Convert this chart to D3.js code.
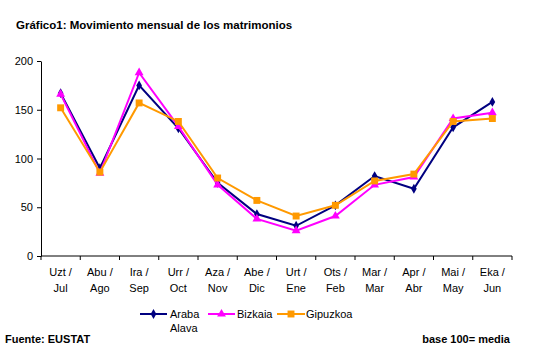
<!DOCTYPE html>
<html><head><meta charset="utf-8">
<script src="https://cdn.jsdelivr.net/npm/d3@7"></script>
<style>body{margin:0;background:#fff;}svg{display:block;font-family:"Liberation Sans",Arial,sans-serif;}</style>
</head><body><svg id="c" width="537" height="359"></svg>
<script>
const categoriesTop = ["Uzt /","Abu /","Ira /","Urr /","Aza /","Abe /","Urt /","Ots /","Mar /","Apr /","Mai /","Eka /"];
const categoriesBottom = ["Jul","Ago","Sep","Oct","Nov","Dic","Ene","Feb","Mar","Abr","May","Jun"];
const araba = [167, 90, 175, 131, 75, 43, 31, 52, 82, 69, 132, 158];
const bizkaia = [166, 85, 188, 133, 73, 38, 26, 41, 73, 81, 141, 147];
const gipuzkoa = [152, 86, 157, 138, 80, 57, 41, 52, 77, 84, 138, 141];
const yTicks = [0, 50, 100, 150, 200];

(function(){
const svg = d3.select("#c");
const pL = 41, pR = 512, pT = 61, pB = 256;
const x = d3.scaleBand().domain(d3.range(12)).range([pL, pR]);
const y = d3.scaleLinear().domain([0, 200]).range([pB, pT]);

svg.append("text").attr("x", 16).attr("y", 29).attr("font-size", 11.5).attr("font-weight", "bold").text("Gráfico1: Movimiento mensual de los matrimonios");

// y axis
const ya = svg.append("g").attr("transform", `translate(${pL},0)`)
  .call(d3.axisLeft(y).tickValues(yTicks).tickSize(4).tickSizeOuter(0));
ya.select(".domain").attr("stroke", "#000");
ya.selectAll("text").attr("font-size", 11).attr("font-family", "Liberation Sans, Arial, sans-serif").attr("fill", "#000").attr("dx", -1);

// x axis
const xa = svg.append("g").attr("transform", `translate(0,${pB})`);
xa.append("line").attr("x1", pL).attr("x2", pR).attr("stroke", "#000");
const edges = d3.range(13).map(i => i < 12 ? x(i) : x(11) + x.bandwidth());
xa.selectAll("line.t").data(edges).join("line").attr("class", "t")
  .attr("x1", d => d).attr("x2", d => d).attr("y1", 0).attr("y2", 4).attr("stroke", "#000");
xa.selectAll("text.a").data(categoriesTop).join("text").attr("class", "a")
  .attr("x", (d, i) => x(i) + x.bandwidth() / 2).attr("y", 20).attr("text-anchor", "middle").attr("font-size", 11).text(d => d);
xa.selectAll("text.b").data(categoriesBottom).join("text").attr("class", "b")
  .attr("x", (d, i) => x(i) + x.bandwidth() / 2).attr("y", 36).attr("text-anchor", "middle").attr("font-size", 11).text(d => d);

const line = d3.line().x((d, i) => x(i) + x.bandwidth() / 2).y(d => y(d));
const series = [
  {name: "Araba", data: araba, color: "#000080", shape: d3.symbolDiamond, size: 28},
  {name: "Bizkaia", data: bizkaia, color: "#FF00FF", shape: d3.symbolTriangle, size: 34},
  {name: "Gipuzkoa", data: gipuzkoa, color: "#FF9900", shape: d3.symbolSquare, size: 48}
];
series.forEach(s => {
  svg.append("path").datum(s.data).attr("d", line).attr("fill", "none").attr("stroke", s.color).attr("stroke-width", 2);
  svg.selectAll(null).data(s.data).join("path")
    .attr("transform", (d, i) => `translate(${x(i) + x.bandwidth() / 2},${y(d)})`)
    .attr("d", d3.symbol().type(s.shape).size(s.size)).attr("fill", s.color);
});

// legend
const leg = [
  {x1: 140, x2: 167, tx: 170, label: ["Araba", "Alava"]},
  {x1: 208, x2: 235, tx: 237, label: ["Bizkaia"]},
  {x1: 277, x2: 305, tx: 306, label: ["Gipuzkoa"]}
];
leg.forEach((l, k) => {
  const s = series[k];
  const ly = 314;
  svg.append("line").attr("x1", l.x1).attr("x2", l.x2).attr("y1", ly).attr("y2", ly).attr("stroke", s.color).attr("stroke-width", 2);
  svg.append("path").attr("transform", `translate(${(l.x1 + l.x2) / 2},${ly})`)
    .attr("d", d3.symbol().type(s.shape).size(s.size)).attr("fill", s.color);
  l.label.forEach((t, j) => svg.append("text").attr("x", l.tx).attr("y", ly + 4 + j * 14).attr("font-size", 11).text(t));
});

svg.append("text").attr("x", 5).attr("y", 343).attr("font-size", 11).attr("font-weight", "bold").text("Fuente: EUSTAT");
svg.append("text").attr("x", 510).attr("y", 343).attr("text-anchor", "end").attr("font-size", 11).attr("font-weight", "bold").text("base 100= media");
})();
</script></body></html>
